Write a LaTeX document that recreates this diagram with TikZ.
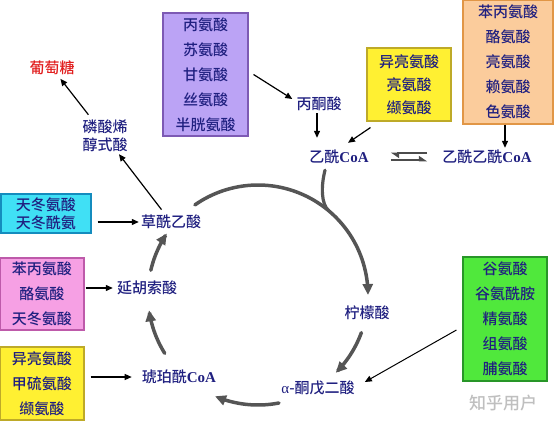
\documentclass[tikz,border=0pt]{standalone}
\usepackage{fontspec}
\setmainfont{Liberation Serif}
\newfontfamily\cjk{Noto Sans CJK SC Medium}
\usetikzlibrary{arrows.meta,calc}
\definecolor{lbl}{RGB}{32,32,128}
\definecolor{glcred}{RGB}{225,30,30}
\definecolor{cycgray}{RGB}{85,85,85}
\definecolor{purpfill}{RGB}{187,163,245}
\definecolor{purpdraw}{RGB}{125,90,180}
\definecolor{yelfill}{RGB}{255,240,50}
\definecolor{yeldraw}{RGB}{190,170,40}
\definecolor{orfill}{RGB}{251,204,156}
\definecolor{ordraw}{RGB}{225,150,70}
\definecolor{cyfill}{RGB}{64,224,245}
\definecolor{cydraw}{RGB}{20,140,190}
\definecolor{pkfill}{RGB}{246,160,228}
\definecolor{pkdraw}{RGB}{190,90,170}
\definecolor{grfill}{RGB}{80,232,60}
\definecolor{grdraw}{RGB}{40,150,40}
\newcommand\CoA{{\rmfamily\bfseries CoA}}
\begin{document}
\begin{tikzpicture}[x=1pt,y=-1pt,
  lab/.style={font=\cjk\fontsize{15}{18}\selectfont, text=lbl, inner sep=2pt, align=center},
  box/.style={draw, line width=1.1pt, align=center, inner sep=0pt, text=lbl},
  b25/.style={font=\cjk\fontsize{15}{25}\selectfont},
  thinarrow/.style={line width=1.2pt, -{Triangle[length=7pt,width=6pt]}},
  cycarrow/.style={line width=3.5pt, draw=cycgray, line cap=round, -{Triangle[length=11pt,width=10pt]}},
  harp/.style={line width=2pt, draw=black!70, -{Stealth[left,length=7pt,width=9pt,inset=0pt]}},
]
\useasboundingbox (0,0) rectangle (554,422);

% boxes
\node[box, b25, fill=purpfill, draw=purpdraw, minimum width=85pt, minimum height=123pt] (purple) at (205.5,74.5) {丙氨酸\\苏氨酸\\甘氨酸\\丝氨酸\\半胱氨酸};
\node[box, b25, fill=orfill, draw=ordraw, minimum width=90pt, minimum height=124pt] (orange) at (508,62) {苯丙氨酸\\酪氨酸\\亮氨酸\\赖氨酸\\色氨酸};
\node[box, font=\cjk\fontsize{15}{23}\selectfont, fill=yelfill, draw=yeldraw, minimum width=84pt, minimum height=73pt] (ytop) at (409,84.5) {异亮氨酸\\亮氨酸\\缬氨酸};
\node[box, font=\cjk\fontsize{15}{18}\selectfont, fill=cyfill, draw=cydraw, minimum width=90pt, minimum height=39pt] (cyan) at (46,213.5) {天冬氨酸\\天冬酰氨};
\node[box, b25, fill=pkfill, draw=pkdraw, minimum width=84pt, minimum height=72pt] (pink) at (42,294) {苯丙氨酸\\酪氨酸\\天冬氨酸};
\node[box, b25, fill=yelfill, draw=yeldraw, minimum width=84pt, minimum height=73pt] (ybot) at (42,383.5) {异亮氨酸\\甲硫氨酸\\缬氨酸};
\node[box, b25, fill=grfill, draw=grdraw, minimum width=84pt, minimum height=124pt] (green) at (505,319) {谷氨酸\\谷氨酰胺\\精氨酸\\组氨酸\\脯氨酸};

% labels
\node[lab, text=glcred] (glc) at (52,68) {葡萄糖};
\node[lab] (pep) at (105,136) {磷酸烯\\醇式酸};
\node[lab] (pyr) at (319,104) {丙酮酸};
\node[lab] (acoa) at (339,157) {乙酰\CoA};
\node[lab] (aacoa) at (487,157) {乙酰乙酰\CoA};
\node[lab] (oaa) at (171,222) {草酰乙酸};
\node[lab] (fum) at (147,288) {延胡索酸};
\node[lab] (succ) at (179,377) {琥珀酰\CoA};
\node[lab] (akg) at (318,388) {{\rmfamily α}-酮戊二酸};
\node[lab] (cit) at (367,313) {柠檬酸};
\node[font=\cjk\fontsize{17}{20}\selectfont, text=black!25] (wm) at (503,403) {知乎用户};

% thin arrows
\draw[thinarrow, shorten <=4pt] (oaa) -- (pep);
\draw[thinarrow, shorten <=4pt, shorten >=2pt] (pep) -- (glc);
\draw[thinarrow] ([xshift=5pt]purple.east) -- ([shift={(-2,-5)}]pyr.west);
\draw[thinarrow, shorten >=10pt] ([xshift=-2pt]pyr.south) -- ([xshift=-2pt]pyr.south |- acoa.north);
\draw[thinarrow] ([shift={(4,6)}]ytop.south west) -- ([shift={(9,-5)}]acoa.north);
\draw[thinarrow] ([xshift=-3pt]orange.south) -- ([xshift=-3pt]orange.south |- aacoa.north);
\draw[thinarrow, shorten <=6pt] (cyan.east |- oaa.west) -- (oaa.west);
\draw[thinarrow, shorten <=1pt, shorten >=2pt] (pink.east |- fum.west) -- (fum.west);
\draw[thinarrow, shorten <=6pt, shorten >=8pt] (ybot.east |- succ.west) -- (succ.west);
\draw[thinarrow, line width=1pt] ([shift={(-6,11)}]green.west) -- ([shift={(8,-6)}]akg.east);

% equilibrium harpoons
\draw[harp, shorten <=20pt, shorten >=13pt] ([yshift=-3.5pt]acoa.east) -- ([yshift=-3.5pt]aacoa.west);
\draw[harp, shorten <=13pt, shorten >=20pt] ([yshift=3.5pt]aacoa.west) -- ([yshift=3.5pt]acoa.east);

% citric acid cycle
\coordinate (cc) at (258,295);
\draw[cycarrow] plot[domain=-125:0, samples=60] ({258+110*cos(\x)},{295+110*sin(\x)});
\draw[cycarrow] plot[domain=20:45, samples=20] ({258+110*cos(\x)},{295+110*sin(\x)});
\draw[cycarrow] plot[domain=79:113, samples=20] ({258+110*cos(\x)},{295+110*sin(\x)});
\draw[cycarrow] plot[domain=148:172, samples=20] ({258+110*cos(\x)},{295+110*sin(\x)});
\draw[cycarrow] plot[domain=193:214, samples=20] ({258+110*cos(\x)},{295+110*sin(\x)});
\draw[line width=3.2pt, draw=cycgray, line cap=round] ([shift={(-14,4)}]acoa.south) .. controls (321,186) and (321,204) .. ($(cc)+(-50:110)$);
\end{tikzpicture}
\end{document}
